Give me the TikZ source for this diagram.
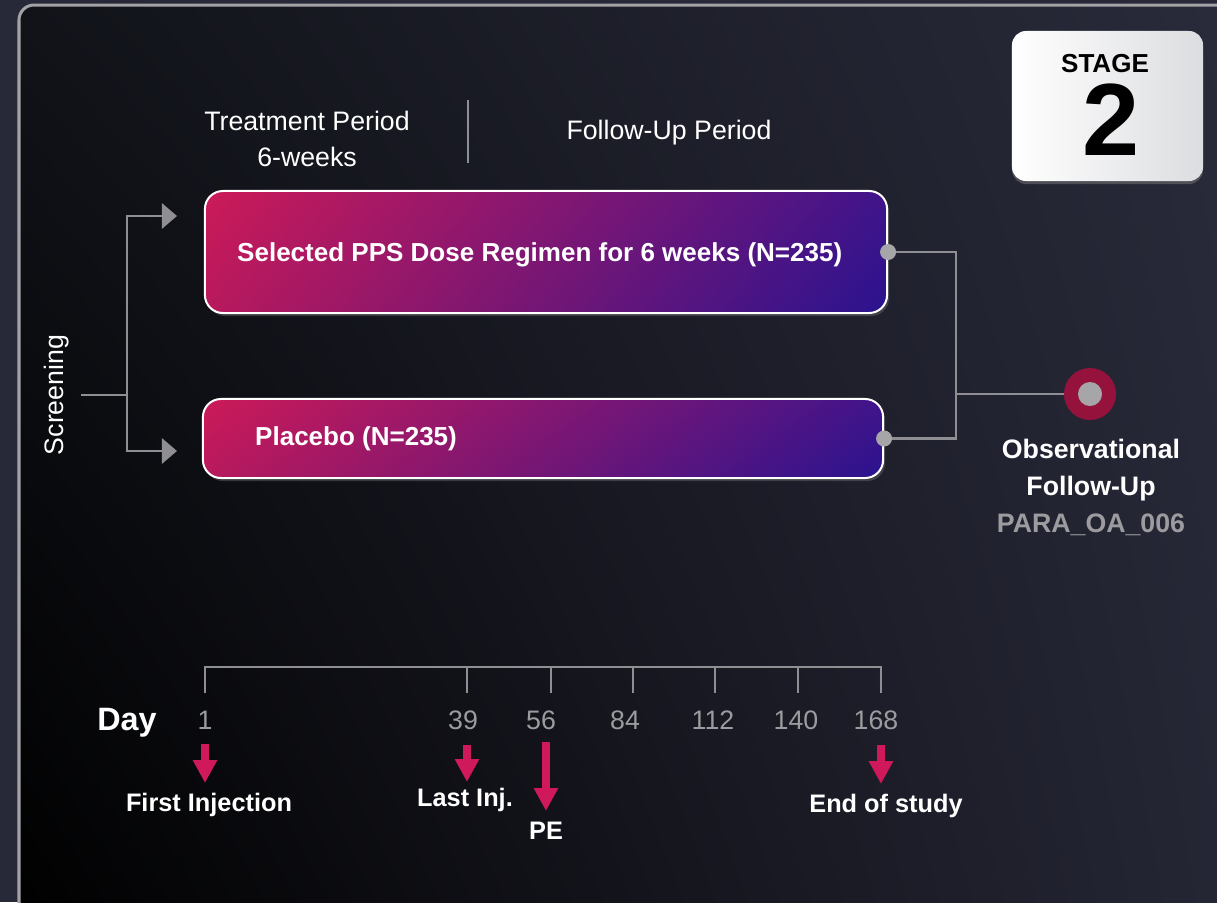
\documentclass[tikz,border=0pt]{standalone}
\usepackage{fontspec}
\setmainfont{Liberation Sans}
\usetikzlibrary{arrows.meta, positioning, shadows, shadings}
\definecolor{bgnavy}{HTML}{272838}
\definecolor{panelTL}{HTML}{111319}
\definecolor{panelTR}{HTML}{2A2B3B}
\definecolor{panelBR}{HTML}{262736}
\definecolor{rim}{HTML}{A3A3A6}
\definecolor{crimsonL}{HTML}{CC1A58}
\definecolor{crimsonD}{HTML}{B8195D}
\definecolor{indigoL}{HTML}{40148A}
\definecolor{indigoD}{HTML}{2A138F}
\definecolor{linkgray}{HTML}{8F8F93}
\definecolor{dotgray}{HTML}{A6A6A9}
\definecolor{numgray}{HTML}{9C9CA0}
\definecolor{ringred}{HTML}{95123C}
\definecolor{markred}{HTML}{D0195A}
\definecolor{stagegray}{HTML}{DCDDE0}
\tikzset{panel/.style={rounded corners=3.75mm, upper left=panelTL, upper right=panelTR, lower left=black, lower right=panelBR}}
\tikzset{panelrim/.style={draw=rim, line width=0.75mm, rounded corners=3.75mm}}
\tikzset{stage/.style={rounded corners=3.5mm, left color=white, right color=stagegray, minimum width=47.75mm, minimum height=37.5mm, drop shadow={opacity=0.45, shadow xshift=0mm, shadow yshift=-0.75mm}}}
\tikzset{arm/.style={draw=white, line width=0.5mm, rounded corners=4.5mm, inner sep=0, upper left=crimsonL, lower left=crimsonD, upper right=indigoL, lower right=indigoD, drop shadow={opacity=0.35, shadow xshift=0.5mm, shadow yshift=-0.75mm}}}
\tikzset{armtext/.style={text=white, inner sep=0, font=\bfseries\fontsize{18.5}{22}\selectfont}}
\tikzset{period/.style={text=white, inner sep=0, align=center}}
\tikzset{conn/.style={draw=linkgray, line width=0.7mm}}
\tikzset{feed/.style={conn, -{Triangle[length=3.75mm, width=6.25mm]}}}
\tikzset{dot/.style={circle, fill=dotgray, minimum size=4mm, inner sep=0}}
\tikzset{ring/.style={circle, fill=ringred, minimum size=13mm, inner sep=0, path picture={\fill[dotgray] (path picture bounding box.center) circle (3mm);}}}
\tikzset{obslabel/.style={text=white, inner sep=0, align=center, font=\bfseries\fontsize{19}{26}\selectfont}}
\tikzset{axis/.style={draw=linkgray, line width=0.7mm}}
\tikzset{daynum/.style={text=numgray, inner sep=0}}
\tikzset{event/.style={text=white, inner sep=0, anchor=north, font=\bfseries\fontsize{18}{22}\selectfont}}
\tikzset{eventarrow/.style={draw=markred, line width=2.1mm, -{Triangle[length=5.75mm, width=5.75mm]}, shorten <=3.75mm, shorten >=2.5mm}}

\begin{document}
\begin{tikzpicture}[x=0.025cm, y=-0.025cm, font=\fontsize{19}{26}\selectfont]

\useasboundingbox (0,0) rectangle (1217,902);
\fill[bgnavy] (0,0) rectangle (1217,902);
\begin{scope}
\clip (0,0) rectangle (1217,902);
\shade[panel] (19,5) rectangle (1250,940);
\draw[panelrim] (19,5) rectangle (1250,940);
\end{scope}

% stage badge
\node[stage] (stage) at (1107.5,106) {};
\node[inner sep=0, font=\bfseries\fontsize{18.5}{20}\selectfont] (stagelbl) at (1105,64) {STAGE};
\node[inner sep=0, font=\bfseries\fontsize{73}{73}\selectfont] (stagenum) at (1111,120) {2};

% periods
\node[period] (treat) at (307,139) {Treatment Period\\6-weeks};
\node[period] (follow) at (669,133) {Follow-Up Period};
\draw[draw=linkgray, line width=0.5mm] (468,100) -- (468,163);

% arms
\node[arm, minimum width=170.5mm, minimum height=30.5mm] (armA) at (546,252) {};
\node[armtext, right=8.25mm of armA.west, yshift=-0.6mm] (armAtext) {Selected PPS Dose Regimen for 6 weeks (N=235)};
\node[arm, minimum width=170mm, minimum height=19.75mm] (armB) at (543,438.5) {};
\node[armtext, right=13.25mm of armB.west] (armBtext) {Placebo (N=235)};

% screening split
\node[period, rotate=90, outer sep=3mm] (screen) at (57,395) {Screening};
\coordinate (split) at (127,395);
\coordinate (inA) at (177,216);
\coordinate (inB) at (177,451);
\draw[conn] (screen.south) -- (split);
\draw[feed] (split) |- (inA);
\draw[feed] (split) |- (inB);

% merge to follow-up
\coordinate (merge) at (956,394);
\node[ring] (ofu) at (1090,394) {};
\draw[conn] (armA.east) -| (merge) |- (armB.east);
\draw[conn] (merge) -- (ofu);
\node[dot] (dotA) at (armA.east) {};
\node[dot] (dotB) at (armB.east) {};
\node[obslabel] (obs) at (1091,470) {Observational\\Follow-Up};
\node[obslabel, text=numgray] (para) at (1091,525) {PARA\_OA\_006};

% timeline
\node[text=white, inner sep=0, font=\bfseries\fontsize{23}{26}\selectfont] (day) at (127,723) {Day};
\foreach \d/\x/\lx in {1/205/205, 39/467/463, 56/551/541, 84/633/625, 112/715/713, 140/798/796, 168/881/876} {
  \coordinate (t\d) at (\x,667);
  \node[daynum] (n\d) at (\lx,720) {\d};
}
\draw[axis] (t1) ++(0,26) -- (t1) -- (t168) -- ++(0,26);
\foreach \d in {39,56,84,112,140} \draw[axis] (t\d) -- ++(0,26);

\node[event] (first) at (209,793) {First Injection};
\node[event] (lastinj) at (465,788) {Last Inj.};
\node[event] (pe) at (546,822) {PE};
\node[event] (eos) at (886,794) {End of study};

\draw[eventarrow] (t1 |- n1.south) -- (t1 |- first.north);
\draw[eventarrow, shorten >=1.5mm] (t39 |- n39.south) -- (t39 |- lastinj.north);
\draw[eventarrow, shorten <=3mm, shorten >=2.75mm] (pe.north |- n56.south) -- (pe.north);
\draw[eventarrow] (t168 |- n168.south) -- (t168 |- eos.north);

\end{tikzpicture}
\end{document}
